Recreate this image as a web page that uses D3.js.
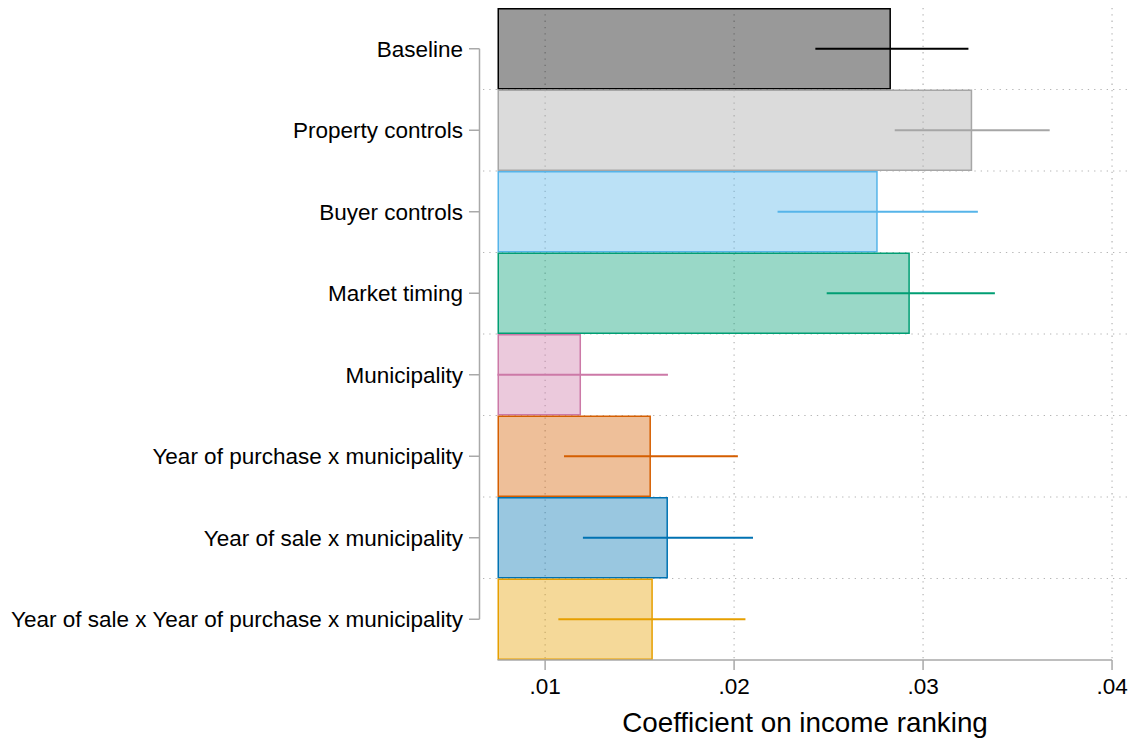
<!DOCTYPE html>
<html>
<head>
<meta charset="utf-8">
<script src="https://cdn.jsdelivr.net/npm/d3@7"></script>
<style>
  html, body { margin: 0; padding: 0; background: #fff; }
  svg { display: block; font-family: "Liberation Sans", Arial, sans-serif; }
</style>
</head>
<body>
<svg id="chart" width="1137" height="743"></svg>
<script>
// Specification labels, top to bottom
const specs = [
  "Baseline",
  "Property controls",
  "Buyer controls",
  "Market timing",
  "Municipality",
  "Year of purchase x municipality",
  "Year of sale x municipality",
  "Year of sale x Year of purchase x municipality"
];
// Point estimates of the coefficient
const coef = [0.0283, 0.0326, 0.0276, 0.0293, 0.0119, 0.0156, 0.0165, 0.0157];
// 95% confidence interval bounds
const ciLow = [0.0243, 0.0285, 0.0223, 0.0249, 0.0073, 0.0110, 0.0120, 0.0107];
const ciHigh = [0.0324, 0.0367, 0.0329, 0.0338, 0.0165, 0.0202, 0.0210, 0.0206];
// Series colours
const colors = ["#000000", "#a6a6a6", "#56b4e9", "#009e73", "#cc79a7", "#d55e00", "#0072b2", "#e69f00"];
// Axis ticks
const xTicks = [0.01, 0.02, 0.03, 0.04];
const xTickLabels = [".01", ".02", ".03", ".04"];
const xDomain = [0.00748, 0.04095];

const svg = d3.select("#chart");
const plot = { left: 497.5, right: 1130, top: 8, bottom: 660 };

const x = d3.scaleLinear().domain(xDomain).range([plot.left, plot.right]).clamp(true);
const y = d3.scaleBand().domain(specs).range([plot.top, plot.bottom]).padding(0);

const gridColor = "#b4b4b4";

// Vertical grid lines at ticks
svg.append("g").selectAll("line").data(xTicks).join("line")
  .attr("x1", d => x(d)).attr("x2", d => x(d))
  .attr("y1", plot.top).attr("y2", plot.bottom)
  .attr("stroke", gridColor).attr("stroke-width", 1.2)
  .attr("stroke-dasharray", "1.3,5");

// Horizontal grid lines between rows
svg.append("g").selectAll("line").data(specs.slice(1)).join("line")
  .attr("x1", 483).attr("x2", plot.right)
  .attr("y1", d => y(d)).attr("y2", d => y(d))
  .attr("stroke", gridColor).attr("stroke-width", 1.2)
  .attr("stroke-dasharray", "1.3,5");

// Bars from the left edge of the axis
const bars = svg.append("g");
specs.forEach((s, i) => {
  const y0 = y(s), h = y.bandwidth();
  bars.append("rect")
    .attr("x", x(xDomain[0]) + 0.75)
    .attr("y", y0 + 0.75)
    .attr("width", x(coef[i]) - x(xDomain[0]) - 1.5)
    .attr("height", h - 1.5)
    .attr("fill", colors[i]).attr("fill-opacity", 0.4)
    .attr("stroke", colors[i]).attr("stroke-width", 1.5);
});

// Confidence interval lines
svg.append("g").selectAll("line").data(specs).join("line")
  .attr("x1", (d, i) => x(ciLow[i])).attr("x2", (d, i) => x(ciHigh[i]))
  .attr("y1", d => y(d) + y.bandwidth() / 2).attr("y2", d => y(d) + y.bandwidth() / 2)
  .attr("stroke", (d, i) => colors[i]).attr("stroke-width", 2);

const axisColor = "#a9a9a9";

// Left axis (bracket style)
const yc = d => y(d) + y.bandwidth() / 2;
const leftAxis = svg.append("g");
leftAxis.append("line")
  .attr("x1", 479.5).attr("x2", 479.5)
  .attr("y1", yc(specs[0])).attr("y2", yc(specs[specs.length - 1]))
  .attr("stroke", axisColor).attr("stroke-width", 1.5);
leftAxis.selectAll("line.tick").data(specs).join("line").attr("class", "tick")
  .attr("x1", 469).attr("x2", 479.5)
  .attr("y1", yc).attr("y2", yc)
  .attr("stroke", axisColor).attr("stroke-width", 1.5);
leftAxis.selectAll("text").data(specs).join("text")
  .attr("x", 463).attr("y", yc).attr("dy", "0.35em")
  .attr("text-anchor", "end")
  .attr("font-size", 22.5).attr("fill", "#000")
  .text(d => d);

// Bottom axis
const bottomAxis = svg.append("g");
bottomAxis.append("line")
  .attr("x1", plot.left).attr("x2", x(0.04))
  .attr("y1", plot.bottom).attr("y2", plot.bottom)
  .attr("stroke", axisColor).attr("stroke-width", 1.5);
bottomAxis.selectAll("line.tick").data(xTicks).join("line").attr("class", "tick")
  .attr("x1", d => x(d)).attr("x2", d => x(d))
  .attr("y1", plot.bottom).attr("y2", plot.bottom + 10)
  .attr("stroke", axisColor).attr("stroke-width", 1.5);
bottomAxis.selectAll("text").data(xTicks).join("text")
  .attr("x", d => x(d)).attr("y", 694)
  .attr("text-anchor", "middle")
  .attr("font-size", 22.5).attr("fill", "#000")
  .text((d, i) => xTickLabels[i]);

svg.append("text")
  .attr("x", 805).attr("y", 732)
  .attr("text-anchor", "middle")
  .attr("font-size", 27.8).attr("fill", "#000")
  .text("Coefficient on income ranking");
</script>
</body>
</html>
